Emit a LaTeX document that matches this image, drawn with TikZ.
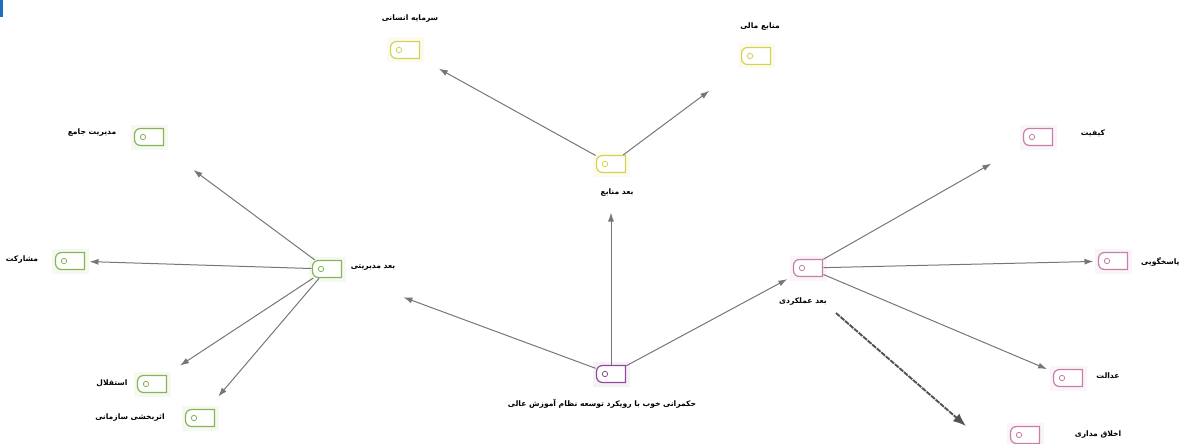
\documentclass[tikz,border=0pt]{standalone}
\usepackage{fontspec}
\usetikzlibrary{arrows.meta,calc}
\TeXXeTstate=1
\newfontfamily\arabicfont[Script=Arabic]{DejaVu Sans}
\definecolor{cgreen}{HTML}{86B556}
\definecolor{cyellow}{HTML}{D6D24E}
\definecolor{cpink}{HTML}{C67FA8}
\definecolor{cpurple}{HTML}{8E4C98}
\definecolor{arrowgray}{HTML}{767676}
\definecolor{cblue}{HTML}{1E6FC0}
\newcommand\mkicon[3]{%
  \node[iconbox] (#1) at (#2) {};
  \fill[#3!8] ([shift={(-4pt,4pt)}]#1.north west) rectangle ([shift={(4pt,-4pt)}]#1.south east);
  \draw[iconline=#3] (#1.north east) -- ([xshift=6pt]#1.north west)
     arc[start angle=90,end angle=180,radius=6pt]
     -- ([yshift=6pt]#1.south west)
     arc[start angle=180,end angle=270,radius=6pt]
     -- (#1.south east) -- cycle;
  \draw[#3,line width=0.8pt] ([xshift=8.5pt]#1.west) circle[radius=2.7pt];
}
\begin{document}
\begin{tikzpicture}[x=1pt,y=-1pt,
  iconbox/.style={minimum width=29pt,minimum height=17pt,inner sep=0pt,outer sep=0pt},
  iconline/.style={draw=#1,line width=1.2pt,fill=white},
  lbl/.style={font=\arabicfont\bfseries\fontsize{7.6}{8}\selectfont,inner sep=1pt,text=black},
  arr/.style={draw=arrowgray,line width=1pt,-{Latex[length=9pt,width=6pt]},shorten <=1pt},
  thickarr/.style={draw=arrowgray!70!black,line width=1.9pt,dash pattern=on 5pt off 1pt,-{Latex[length=13pt,width=10pt]}}
]
\useasboundingbox (0,0) rectangle (1179,444);
\fill[cblue] (0,0) rectangle (3,17);

% icons
\mkicon{C}{611,374}{cpurple}
\mkicon{R}{611,164}{cyellow}
\mkicon{R1}{405,50}{cyellow}
\mkicon{R2}{756,56}{cyellow}
\mkicon{M}{327,269}{cgreen}
\mkicon{M1}{149,137}{cgreen}
\mkicon{M2}{70,261}{cgreen}
\mkicon{M3}{152,384}{cgreen}
\mkicon{M4}{200,418}{cgreen}
\mkicon{P}{808,268}{cpink}
\mkicon{P1}{1038,137}{cpink}
\mkicon{P2}{1113,261}{cpink}
\mkicon{P3}{1068,378}{cpink}
\mkicon{P4}{1025,435}{cpink}

% labels
\node[lbl] (lC) at (602,404) {\beginR حکمرانی خوب با رویکرد توسعه نظام آموزش عالی\endR};
\node[lbl] (lR) at (617,193) {\beginR بعد منابع\endR};
\node[lbl] (lR1) at (410,19) {\beginR سرمایه انسانی\endR};
\node[lbl] (lR2) at (760,27) {\beginR منابع مالی\endR};
\node[lbl] (lM) at (373,268) {\beginR بعد مدیریتی\endR};
\node[lbl] (lM1) at (92,133) {\beginR مدیریت جامع\endR};
\node[lbl] (lM2) at (22,260) {\beginR مشارکت\endR};
\node[lbl] (lM3) at (112,383) {\beginR استقلال\endR};
\node[lbl] (lM4) at (130,418) {\beginR اثربخشی سازمانی\endR};
\node[lbl] (lP) at (803,302) {\beginR بعد عملکردی\endR};
\node[lbl] (lP1) at (1093,133) {\beginR کیفیت\endR};
\node[lbl,anchor=west] (lP2) at (1140,262) {\beginR پاسخگویی\endR};
\node[lbl] (lP3) at (1108,376) {\beginR عدالت\endR};
\node[lbl] (lP4) at (1098,435) {\beginR اخلاق مداری\endR};

% connectors
\draw[arr,shorten >=40pt] (C) -- (R);
\draw[arr,shorten >=66pt] (C) -- (M);
\draw[arr,shorten >=7pt] (C) -- (P);
\draw[arr,shorten >=22pt] (R) -- (R1);
\draw[arr,shorten >=44pt] (R) -- (R2);
\draw[arr,shorten >=41pt] (M) -- (M1);
\draw[arr,shorten >=5pt] (M) -- (M2);
\draw[arr,shorten >=18pt] (M) -- (M3);
\draw[arr,shorten >=17pt] (M) -- (M4);
\draw[arr,shorten >=37pt] (P) -- (P1);
\draw[arr,shorten >=5pt] (P) -- (P2);
\draw[arr,shorten >=7pt] (P) -- (P3);
\coordinate (ts) at (836,313);
\coordinate (te) at (966,426);
\draw[thickarr] (ts) -- (te);
\end{tikzpicture}
\end{document}
